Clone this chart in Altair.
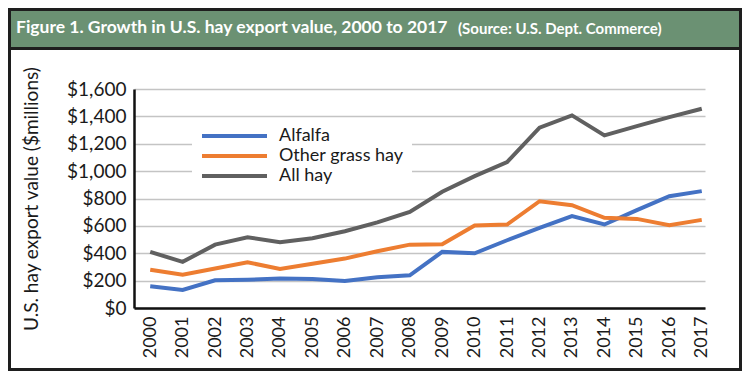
import altair as alt
import pandas as pd

years = list(range(2000, 2018))
alfalfa = [159, 132, 202, 207, 215, 212, 198, 225, 239, 410, 400, 495, 585, 671, 610, 715, 817, 854]
other_grass = [280, 244, 288, 334, 285, 324, 361, 415, 463, 466, 602, 610, 780, 751, 659, 651, 605, 644]
all_hay = [410, 337, 463, 517, 480, 510, 561, 625, 702, 849, 963, 1066, 1317, 1407, 1261, 1329, 1395, 1456]
series_names = ["Alfalfa", "Other grass hay", "All hay"]
series_colors = ["#4472C4", "#ED7D31", "#606060"]
y_ticks = [0, 200, 400, 600, 800, 1000, 1200, 1400, 1600]
title_main = "Figure 1. Growth in U.S. hay export value, 2000 to 2017"
title_source = "(Source: U.S. Dept. Commerce)"
y_title = "U.S. hay export value ($millions)"

rows = []
for name, vals in zip(series_names, [alfalfa, other_grass, all_hay]):
    for yr, v in zip(years, vals):
        rows.append({"Year": yr, "Value": v, "Series": name})
df = pd.DataFrame(rows)

one = pd.DataFrame({"k": [0]})
FONT = "Lato"
TFONT = "Lato"

frame = alt.Chart(one).mark_rect(fill=None, stroke="#1e1e1e", strokeWidth=3).encode(
    x=alt.value(-124.5), x2=alt.value(606.5), y=alt.value(-79.5), y2=alt.value(280.5)
)
header = alt.Chart(one).mark_rect(fill="#6b9173", stroke="#1e1e1e", strokeWidth=3).encode(
    x=alt.value(-124.5), x2=alt.value(606.5), y=alt.value(-79.5), y2=alt.value(-40.5)
)
t1 = alt.Chart(one).mark_text(
    text=title_main, font=TFONT, fontSize=17.5, fontWeight="bold", color="white",
    align="left", baseline="middle"
).encode(x=alt.value(-118), y=alt.value(-61))
t2 = alt.Chart(one).mark_text(
    text=title_source, font=TFONT, fontSize=15, fontWeight="bold", color="white",
    align="left", baseline="middle"
).encode(x=alt.value(324), y=alt.value(-60))

lines = alt.Chart(df).mark_line(strokeWidth=4, strokeJoin="miter").encode(
    x=alt.X("Year:Q",
            scale=alt.Scale(domain=[1999.5, 2017.1], nice=False, zero=False),
            axis=alt.Axis(values=years, format="d", labelAngle=270, title=None,
                          grid=False, ticks=False, labelPadding=8,
                          labelFontSize=18, labelFont=FONT, labelColor="#1a1a1a",
                          domainColor="#111111", domainWidth=2.5)),
    y=alt.Y("Value:Q",
            scale=alt.Scale(domain=[0, 1600], nice=False),
            axis=alt.Axis(values=y_ticks, format="$,.0f", title=y_title,
                          ticks=False, labelPadding=8, labelFontSize=19,
                          labelFont=FONT, labelColor="#1a1a1a",
                          titleFont=FONT, titleFontSize=19, titleFontWeight="normal",
                          titleColor="#1a1a1a", titleX=-103, titleBaseline="middle",
                          gridColor="#c4c4c4", gridWidth=1.5,
                          domainColor="#111111", domainWidth=2.5)),
    color=alt.Color("Series:N",
                    scale=alt.Scale(domain=series_names, range=series_colors),
                    sort=series_names,
                    legend=alt.Legend(title=None, orient="none", legendX=58, legendY=29,
                                      fillColor="white", padding=8,
                                      symbolType="stroke", symbolSize=4225,
                                      symbolStrokeWidth=4, clipHeight=20, rowPadding=0,
                                      labelFontSize=18, labelFont=FONT,
                                      labelColor="#1a1a1a", labelOffset=10)),
)

chart = alt.layer(frame, header, t1, t2, lines).properties(
    width=571, height=219,
    autosize=alt.AutoSizeParams(type="none"),
    padding={"left": 126, "top": 81, "right": 37, "bottom": 63},
).configure_view(stroke=None)

chart.save("out.html", embed_options={"renderer": "svg", "actions": False})
